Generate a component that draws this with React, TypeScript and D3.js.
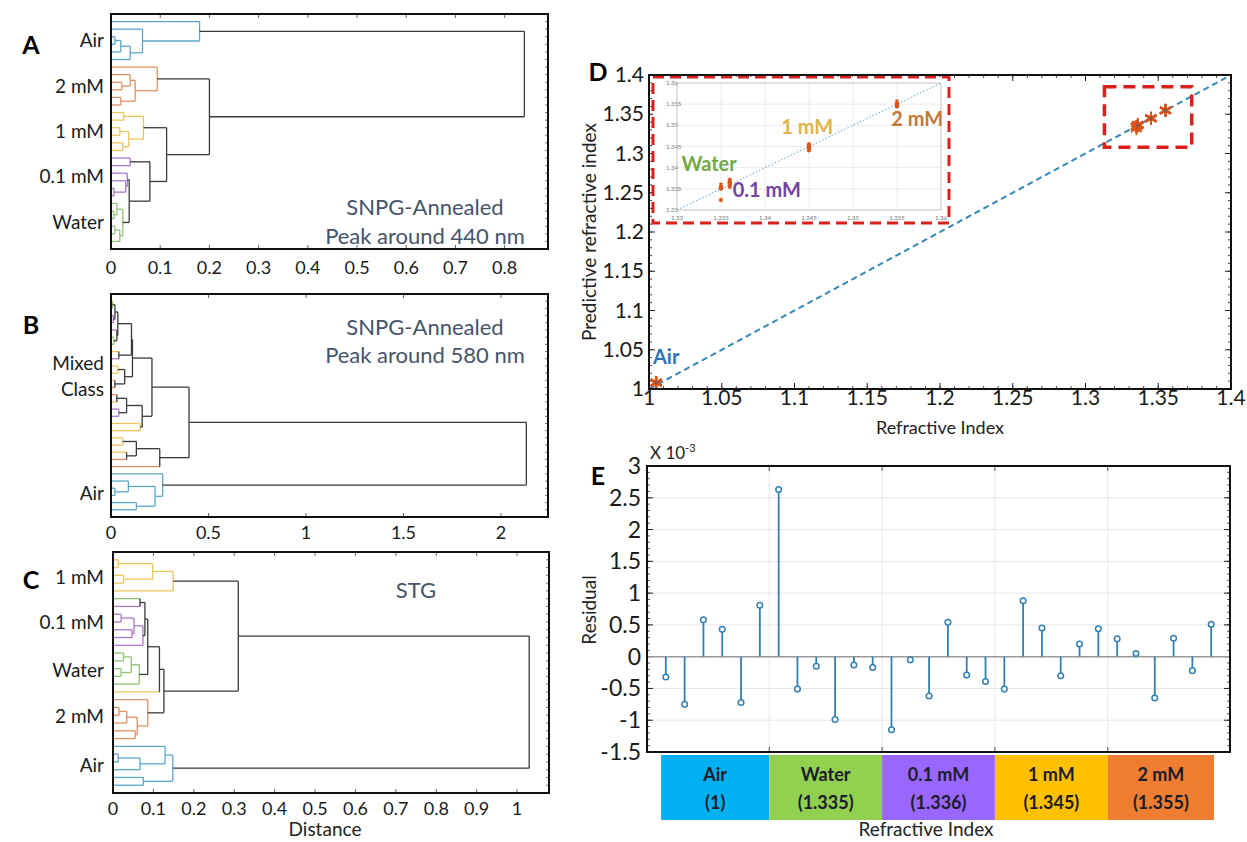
import { useEffect, useRef } from "react";
import * as d3 from "d3";

type Tree = string | [number, Tree, Tree];

// dendrograms: [merge distance, left, right], leaves are class codes
const treeA: Tree = [0.84,
  [0.18, "b", [0.064, "b", [0.039, [0.02, [0.008, "b", "b"], "b"], "b"]]],
  [0.2,
    [0.094, "o", [0.049, [0.039, "o", [0.022, "o", "o"]], [0.02, "o", "o"]]],
    [0.113,
      [0.066, [0.026, "y", "y"], [0.036, [0.018, "y", "y"], [0.024, "y", "y"]]],
      [0.079, [0.039, "p", "p"],
        [0.037, [0.033, "p", [0.03, "p", [0.006, "p", "p"]]],
          [0.024, [0.012, "g", [0.006, "g", "g"]], [0.018, [0.008, "g", "g"], "g"]]]]]]];

const treeB: Tree = [2.13,
  [0.4,
    [0.21,
      [0.11,
        [0.105, [0.035, [0.02, [0.008, "g", "g"], [0.012, "p", "p"]], [0.03, "p", [0.015, "g", "g"]]], [0.04, "y", "p"]],
        [0.07, [0.035, "y", "y"], [0.02, "y", "o"]]],
      [0.16, [0.08, [0.03, "o", "y"], [0.04, "p", "p"]], [0.15, "y", "y"]]],
    [0.25, [0.13, [0.06, "y", "y"], [0.08, "y", "o"]], "o"]],
  [0.265, "b", [0.226, [0.089, "b", [0.02, "b", "b"]], [0.13, "b", "b"]]]];

const treeC: Tree = [1.03,
  [0.31,
    [0.149, [0.098, [0.013, "y", "y"], [0.026, "y", "y"]], "y"],
    [0.126,
      [0.115,
        [0.086,
          [0.079, [0.067, "g", "p"], [0.074, [0.052, [0.02, "p", "p"], [0.047, "p", "p"]], "p"]],
          [0.065, [0.045, [0.026, "g", "g"], [0.02, "g", "g"]], "g"]],
        "y"],
      [0.086, "o", [0.06, [0.034, [0.015, "o", "o"], "o"], [0.055, "o", "o"]]]]],
  [0.148, [0.129, "b", [0.067, [0.013, "b", "b"], "b"]], [0.075, "b", "b"]]];

const dendroColors: Record<string, string> = {
  b: "#5aa7cb", o: "#df9063", y: "#ecc65c", p: "#ab78c6", g: "#92c374", k: "#3a3a3a",
};

const labelsA: [string, number][] = [["Air", 3.5], ["2 mM", 9.5], ["1 mM", 15.5], ["0.1 mM", 21.5], ["Water", 27.5]];
const labelsB: [string, number][] = [["Mixed", 9.6], ["Class", 13.3], ["Air", 27.7]];
const labelsC: [string, number][] = [["1 mM", 3.3], ["0.1 mM", 9.1], ["Water", 15.2], ["2 mM", 21.2], ["Air", 27.5]];

const ticksA = [0, 0.1, 0.2, 0.3, 0.4, 0.5, 0.6, 0.7, 0.8];
const ticksB = [0, 0.5, 1, 1.5, 2];
const ticksC = [0, 0.1, 0.2, 0.3, 0.4, 0.5, 0.6, 0.7, 0.8, 0.9, 1];

// panel E residuals (x 10^-3), 6 samples per class
const residuals = [
  -0.32, -0.75, 0.58, 0.43, -0.72, 0.81,
  2.63, -0.51, -0.15, -0.99, -0.13, -0.17,
  -1.15, -0.05, -0.62, 0.54, -0.29, -0.39,
  -0.51, 0.88, 0.45, -0.30, 0.20, 0.44,
  0.28, 0.05, -0.65, 0.29, -0.22, 0.51,
];
const classNames = ["Air", "Water", "0.1 mM", "1 mM", "2 mM"];
const classRI = ["(1)", "(1.335)", "(1.336)", "(1.345)", "(1.355)"];
const trueRI = [1, 1.335, 1.336, 1.345, 1.355];
const classFill = ["#00b0f0", "#92d050", "#9966ff", "#ffc000", "#ed7d31"];
const classBounds = [0.75, 6.5, 12.5, 18.5, 24.5, 30.15];

// panel D: cluster centres as seen on the main axes
const dCenters: [number, number][] = [[1.005, 1.008], [1.335, 1.334], [1.336, 1.336], [1.345, 1.345], [1.355, 1.355]];
const zoomBox = { x0: 1.313, x1: 1.373, y0: 1.308, y1: 1.385 };
const insetLabels: [string, number, number, string, string][] = [
  ["Water", 1.3305, 1.3392, "#70a844", "start"],
  ["1 mM", 1.3448, 1.3480, "#e0b548", "middle"],
  ["2 mM", 1.3573, 1.3498, "#c5773a", "middle"],
  ["0.1 mM", 1.3402, 1.3331, "#76449c", "middle"],
];

const FONT = "Lato, 'Open Sans', sans-serif";
const fmt = (v: number) => String(+v.toFixed(3));

type Node = { h: number; y: number; c: string; leaf: boolean; a?: Node; b?: Node };

function layoutTree(tree: Tree): Node[] {
  let idx = 0;
  const nodes: Node[] = [];
  const walk = (t: Tree): Node => {
    if (typeof t === "string") { idx++; return { h: 0, y: idx, c: t, leaf: true }; }
    const a = walk(t[1]);
    const b = walk(t[2]);
    const n: Node = { h: t[0], y: (a.y + b.y) / 2, c: a.c === b.c ? a.c : "k", leaf: false, a, b };
    nodes.push(n);
    return n;
  };
  walk(tree);
  return nodes;
}

function text(g: any, x: number, y: number, s: string, size: number, opts: any = {}) {
  return g.append("text")
    .attr("x", x).attr("y", y)
    .attr("font-family", FONT)
    .attr("font-size", size)
    .attr("font-weight", opts.bold ? "bold" : "normal")
    .attr("fill", opts.fill || "#1a1a1a")
    .attr("text-anchor", opts.anchor || "middle")
    .attr("transform", opts.rotate ? `rotate(-90, ${x}, ${y})` : null)
    .text(s);
}

function drawDendro(svg: any, p: any) {
  const g = svg.append("g");
  const [L, T, R, B] = p.box;
  const x = d3.scaleLinear().domain([0, p.xMax]).range([L, R]);
  const y = d3.scaleLinear().domain([0, 31]).range([T, B]);
  const nodes = layoutTree(p.tree);

  nodes.forEach((n) => {
    [n.a!, n.b!].forEach((ch) => {
      g.append("line")
        .attr("x1", x(ch.h)).attr("x2", x(n.h))
        .attr("y1", y(ch.y)).attr("y2", y(ch.y))
        .attr("stroke", dendroColors[ch.leaf ? ch.c : n.c])
        .attr("stroke-width", 1.3);
    });
    g.append("line")
      .attr("x1", x(n.h)).attr("x2", x(n.h))
      .attr("y1", y(n.a!.y)).attr("y2", y(n.b!.y))
      .attr("stroke", dendroColors[n.c])
      .attr("stroke-width", 1.3);
  });

  p.ticks.forEach((t: number) => {
    g.append("line").attr("x1", x(t)).attr("x2", x(t)).attr("y1", B).attr("y2", B - 4).attr("stroke", "#666");
    g.append("line").attr("x1", x(t)).attr("x2", x(t)).attr("y1", T).attr("y2", T + 4).attr("stroke", "#666");
    text(g, x(t), p.tickY, fmt(t), 18);
  });
  d3.range(1, 31).forEach((i) => {
    g.append("line").attr("x1", R - 3).attr("x2", R).attr("y1", y(i)).attr("y2", y(i)).attr("stroke", "#777");
  });
  g.append("rect").attr("x", L).attr("y", T).attr("width", R - L).attr("height", B - T)
    .attr("fill", "none").attr("stroke", "#111").attr("stroke-width", 2);

  p.labels.forEach(([s, pos]: [string, number]) => {
    text(g, 104, y(pos) + 6.5, s, 19, { anchor: "end" });
  });
  p.notes.forEach(([s, yy]: [string, number]) => {
    text(g, p.noteX, yy + 8, s, 22, { fill: "#44546a" });
  });
  text(g, 31, p.letterY, p.letter, 25, { bold: true, fill: "#000" });
}

function drawD(svg: any) {
  const g = svg.append("g");
  const x = d3.scaleLinear().domain([1, 1.4]).range([649, 1231]);
  const y = d3.scaleLinear().domain([1, 1.4]).range([389, 75]);
  const [L, R] = x.range();
  const [B, T] = y.range();

  // ticks
  const major = d3.range(0, 9).map((i) => 1 + i * 0.05);
  const minor = d3.range(0, 41).map((i) => 1 + i * 0.01);
  minor.forEach((v) => {
    g.append("line").attr("x1", x(v)).attr("x2", x(v)).attr("y1", B).attr("y2", B - 3).attr("stroke", "#444");
    g.append("line").attr("x1", x(v)).attr("x2", x(v)).attr("y1", T).attr("y2", T + 3).attr("stroke", "#444");
    g.append("line").attr("x1", L).attr("x2", L + 3).attr("y1", y(v)).attr("y2", y(v)).attr("stroke", "#444");
    g.append("line").attr("x1", R).attr("x2", R - 3).attr("y1", y(v)).attr("y2", y(v)).attr("stroke", "#444");
  });
  major.forEach((v) => {
    g.append("line").attr("x1", x(v)).attr("x2", x(v)).attr("y1", B).attr("y2", B - 6).attr("stroke", "#222");
    g.append("line").attr("x1", x(v)).attr("x2", x(v)).attr("y1", T).attr("y2", T + 6).attr("stroke", "#222");
    g.append("line").attr("x1", L).attr("x2", L + 6).attr("y1", y(v)).attr("y2", y(v)).attr("stroke", "#222");
    g.append("line").attr("x1", R).attr("x2", R - 6).attr("y1", y(v)).attr("y2", y(v)).attr("stroke", "#222");
    text(g, x(v), 405, fmt(v), 21);
    text(g, 644, y(v) + 7, fmt(v), 21, { anchor: "end" });
  });

  // identity line
  g.append("line")
    .attr("x1", x(1)).attr("y1", y(1)).attr("x2", x(1.4)).attr("y2", y(1.4))
    .attr("stroke", "#3487b8").attr("stroke-width", 2).attr("stroke-dasharray", "6,4");

  // markers
  const star = d3.symbol(d3.symbolAsterisk, 110)();
  dCenters.forEach(([cx, cy], k) => {
    residuals.slice(k * 6, k * 6 + 6).forEach((r) => {
      g.append("path").attr("d", star)
        .attr("transform", `translate(${x(cx)},${y(cy - r / 1000)})`)
        .attr("fill", "none").attr("stroke", "#d95319").attr("stroke-width", 1.8);
    });
    g.append("circle").attr("cx", x(cx)).attr("cy", y(cy)).attr("r", 1.6).attr("fill", "#7a5a4a");
  });
  text(g, 653, 364, "Air", 20, { bold: true, fill: "#2e75b6", anchor: "start" });

  // zoom region marker
  g.append("rect")
    .attr("x", x(zoomBox.x0)).attr("y", y(zoomBox.y1))
    .attr("width", x(zoomBox.x1) - x(zoomBox.x0)).attr("height", y(zoomBox.y0) - y(zoomBox.y1))
    .attr("fill", "none").attr("stroke", "#d9201c").attr("stroke-width", 3.5).attr("stroke-dasharray", "12,7");

  // inset
  const ig = g.append("g");
  ig.append("rect").attr("x", 653).attr("y", 77).attr("width", 296).attr("height", 146).attr("fill", "#fff");
  const ix = d3.scaleLinear().domain([1.33, 1.36]).range([677, 941]);
  const iy = d3.scaleLinear().domain([1.33, 1.36]).range([210, 83]);
  const iticks = d3.range(0, 7).map((i) => 1.33 + i * 0.005);
  iticks.forEach((v) => {
    ig.append("line").attr("x1", ix(v)).attr("x2", ix(v)).attr("y1", 83).attr("y2", 210).attr("stroke", "#e4e4e4").attr("stroke-width", 0.8);
    ig.append("line").attr("x1", 677).attr("x2", 941).attr("y1", iy(v)).attr("y2", iy(v)).attr("stroke", "#e4e4e4").attr("stroke-width", 0.8);
    text(ig, ix(v), 219.5, fmt(v), 6, { fill: "#777" });
    text(ig, 666, iy(v) + 2, fmt(v), 6, { fill: "#777", anchor: "start" });
  });
  ig.append("rect").attr("x", 677).attr("y", 83).attr("width", 264).attr("height", 127)
    .attr("fill", "none").attr("stroke", "#c4c4c4").attr("stroke-width", 0.8);
  ig.append("line")
    .attr("x1", ix(1.33)).attr("y1", iy(1.33)).attr("x2", ix(1.36)).attr("y2", iy(1.36))
    .attr("stroke", "#5aa0c8").attr("stroke-width", 1).attr("stroke-dasharray", "1.5,2");
  const small = d3.symbol(d3.symbolAsterisk, 14)();
  trueRI.slice(1).forEach((t, k) => {
    residuals.slice((k + 1) * 6, (k + 1) * 6 + 6).forEach((r) => {
      ig.append("path").attr("d", small)
        .attr("transform", `translate(${ix(t)},${iy(t - r / 1000)})`)
        .attr("fill", "none").attr("stroke", "#d95319").attr("stroke-width", 1.3);
    });
  });
  insetLabels.forEach(([s, vx, vy, c, a]) => {
    text(ig, ix(vx), iy(vy), s, 20, { bold: true, fill: c, anchor: a });
  });
  ig.append("rect").attr("x", 653).attr("y", 77).attr("width", 296).attr("height", 146)
    .attr("fill", "none").attr("stroke", "#d9201c").attr("stroke-width", 3).attr("stroke-dasharray", "11,6");

  g.append("rect").attr("x", L).attr("y", T).attr("width", R - L).attr("height", B - T)
    .attr("fill", "none").attr("stroke", "#111").attr("stroke-width", 2);

  text(g, 940, 434, "Refractive Index", 18, { fill: "#222" });
  text(g, 596, 232, "Predictive refractive index", 19, { fill: "#222", rotate: true });
  text(g, 598, 81, "D", 25, { bold: true, fill: "#000" });
}

function drawE(svg: any) {
  const g = svg.append("g");
  const x = d3.scaleLinear().domain([0, 31]).range([647, 1230]);
  const y = d3.scaleLinear().domain([-1.5, 3]).range([752, 466]);
  const [L, R] = x.range();
  const [B, T] = y.range();
  const yt = d3.range(0, 10).map((i) => -1.5 + i * 0.5);

  yt.forEach((v) => {
    g.append("line").attr("x1", L).attr("x2", R).attr("y1", y(v)).attr("y2", y(v)).attr("stroke", "#e6e6e6");
  });
  classBounds.slice(1, 5).forEach((v) => {
    g.append("line").attr("x1", x(v)).attr("x2", x(v)).attr("y1", T).attr("y2", B).attr("stroke", "#e6e6e6");
    g.append("line").attr("x1", x(v)).attr("x2", x(v)).attr("y1", T).attr("y2", T + 5).attr("stroke", "#555");
    g.append("line").attr("x1", x(v)).attr("x2", x(v)).attr("y1", B).attr("y2", B - 5).attr("stroke", "#555");
  });
  d3.range(0, 46).map((i) => -1.5 + i * 0.1).forEach((v) => {
    g.append("line").attr("x1", L).attr("x2", L + 3).attr("y1", y(v)).attr("y2", y(v)).attr("stroke", "#555");
    g.append("line").attr("x1", R).attr("x2", R - 3).attr("y1", y(v)).attr("y2", y(v)).attr("stroke", "#555");
  });
  yt.forEach((v) => {
    g.append("line").attr("x1", L).attr("x2", L + 6).attr("y1", y(v)).attr("y2", y(v)).attr("stroke", "#222");
    g.append("line").attr("x1", R).attr("x2", R - 6).attr("y1", y(v)).attr("y2", y(v)).attr("stroke", "#222");
    text(g, 641, y(v) + 8, fmt(v), 23, { anchor: "end" });
  });
  g.append("line").attr("x1", L).attr("x2", R).attr("y1", y(0)).attr("y2", y(0)).attr("stroke", "#9a9a9a").attr("stroke-width", 1.5);

  residuals.forEach((r, i) => {
    g.append("line").attr("x1", x(i + 1)).attr("x2", x(i + 1)).attr("y1", y(0)).attr("y2", y(r))
      .attr("stroke", "#3180b4").attr("stroke-width", 1.8);
    g.append("circle").attr("cx", x(i + 1)).attr("cy", y(r)).attr("r", 2.8)
      .attr("fill", "#fff").attr("stroke", "#3180b4").attr("stroke-width", 1.5);
  });

  g.append("rect").attr("x", L).attr("y", T).attr("width", R - L).attr("height", B - T)
    .attr("fill", "none").attr("stroke", "#111").attr("stroke-width", 2);

  // class colour bar
  classNames.forEach((c, k) => {
    const x0 = x(classBounds[k]);
    const x1 = x(classBounds[k + 1]);
    g.append("rect").attr("x", x0).attr("y", 755).attr("width", x1 - x0).attr("height", 65).attr("fill", classFill[k]);
    text(g, (x0 + x1) / 2, 781, c, 18, { bold: true, fill: "#1c1c2a" });
    text(g, (x0 + x1) / 2, 809, classRI[k], 18, { bold: true, fill: "#1c1c2a" });
  });

  const t = text(g, 650, 459, "X 10", 17, { anchor: "start", fill: "#222" });
  t.append("tspan").attr("font-size", 11).attr("dy", -7).text("-3");
  text(g, 596, 610, "Residual", 19, { fill: "#222", rotate: true });
  text(g, 926, 836, "Refractive Index", 19, { fill: "#222" });
  text(g, 598, 485, "E", 25, { bold: true, fill: "#000" });
}

export default function App() {
  const ref = useRef<SVGSVGElement>(null);

  useEffect(() => {
    const svg = d3.select(ref.current);
    svg.selectAll("*").remove();
    svg.append("rect").attr("width", 1247).attr("height", 842).attr("fill", "#fff");

    drawDendro(svg, {
      tree: treeA, xMax: 0.888, box: [111, 14, 548, 249], ticks: ticksA, tickY: 274,
      labels: labelsA, notes: [["SNPG-Annealed", 207], ["Peak around 440 nm", 236]], noteX: 425,
      letter: "A", letterY: 54,
    });
    drawDendro(svg, {
      tree: treeB, xMax: 2.241, box: [111, 294, 548, 517], ticks: ticksB, tickY: 539,
      labels: labelsB, notes: [["SNPG-Annealed", 327], ["Peak around 580 nm", 355]], noteX: 425,
      letter: "B", letterY: 334,
    });
    drawDendro(svg, {
      tree: treeC, xMax: 1.079, box: [113, 552, 549, 793], ticks: ticksC, tickY: 815,
      labels: labelsC, notes: [["STG", 590]], noteX: 416,
      letter: "C", letterY: 589,
    });
    text(svg, 325, 836, "Distance", 19, { fill: "#222" });

    drawD(svg);
    drawE(svg);
  }, []);

  return (
    <svg ref={ref} width={1247} height={842}
      style={{ position: "absolute", left: 0, top: 0, display: "block" }} />
  );
}
